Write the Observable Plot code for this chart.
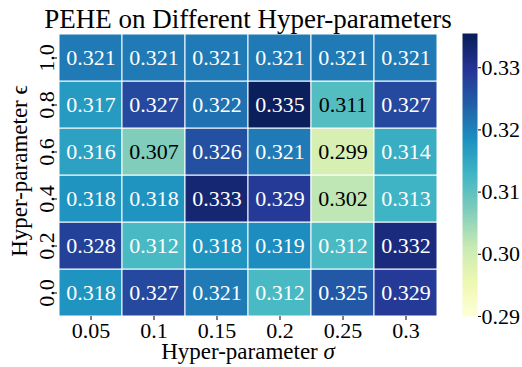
<!DOCTYPE html>
<html>
<head>
<meta charset="utf-8">
<script src="https://cdn.jsdelivr.net/npm/d3@7"></script>
<script src="https://cdn.jsdelivr.net/npm/@observablehq/plot@0.6"></script>
<style>
  html, body { margin: 0; padding: 0; background: white; }
  #chart { position: relative; width: 522px; height: 367px; }
  #chart svg { position: absolute; left: 0; top: 0; }
</style>
</head>
<body>
<div id="chart"></div>
<script>
const title = "PEHE on Different Hyper-parameters";
const sigmaLabels = ["0.05", "0.1", "0.15", "0.2", "0.25", "0.3"];
const epsilonLabels = ["0.0", "0.2", "0.4", "0.6", "0.8", "1.0"];
// rows follow epsilonLabels (0.0 at the bottom ... 1.0 at the top)
const row00 = [0.318, 0.327, 0.321, 0.312, 0.325, 0.329];
const row02 = [0.328, 0.312, 0.318, 0.319, 0.312, 0.332];
const row04 = [0.318, 0.318, 0.333, 0.329, 0.302, 0.313];
const row06 = [0.316, 0.307, 0.326, 0.321, 0.299, 0.314];
const row08 = [0.317, 0.327, 0.322, 0.335, 0.311, 0.327];
const row10 = [0.321, 0.321, 0.321, 0.321, 0.321, 0.321];
const colorbarTicks = [0.29, 0.30, 0.31, 0.32, 0.33];
const colorDomain = [0.29, 0.3355];
const ylgnbu = ["#ffffd9","#edf8b1","#c7e9b4","#7fcdbb","#41b6c4","#1d91c0","#225ea8","#253494","#081d58"];

const rows = [row00, row02, row04, row06, row08, row10];
const cells = [];
rows.forEach((r, i) => r.forEach((v, j) => cells.push({eps: epsilonLabels[i], sigma: sigmaLabels[j], value: v})));

const interp = d3.piecewise(d3.interpolateRgb, ylgnbu);
function lum(c) {
  const rgb = d3.rgb(c);
  const f = x => { x /= 255; return x <= 0.03928 ? x / 12.92 : Math.pow((x + 0.055) / 1.055, 2.4); };
  return 0.2126 * f(rgb.r) + 0.7152 * f(rgb.g) + 0.0722 * f(rgb.b);
}
const tnorm = v => Math.max(0, Math.min(1, (v - colorDomain[0]) / (colorDomain[1] - colorDomain[0])));
const font = "'Liberation Serif', 'Times New Roman', serif";

const M = {marginLeft: 57, marginRight: 84, marginTop: 33, marginBottom: 51};

const main = Plot.plot({
  width: 522, height: 367, ...M,
  style: {fontFamily: font, fontSize: "22px", background: "white", color: "black"},
  x: {type: "band", domain: sigmaLabels, padding: 0, label: null},
  y: {type: "band", domain: epsilonLabels.slice().reverse(), padding: 0, label: null},
  color: {type: "linear", domain: colorDomain, interpolate: interp, clamp: true},
  marks: [
    Plot.cell(cells, {x: "sigma", y: "eps", fill: "value", stroke: "white", strokeWidth: 1}),
    Plot.text(cells, {x: "sigma", y: "eps", text: d => d.value.toFixed(3), fontSize: 22,
      fill: d => lum(interp(tnorm(d.value))) > 0.408 ? "black" : "white"}),
    Plot.axisX({tickSize: 4, tickPadding: 2, fontSize: 22, label: null}),
    Plot.axisY({tickSize: 4, tickFormat: () => "", label: null}),
    Plot.text(epsilonLabels, {y: d => d, text: d => d, frameAnchor: "left", textAnchor: "middle", lineAnchor: "middle", dx: -11, rotate: -90, fontSize: 22}),
    Plot.text(["Hyper-parameter ϵ"], {frameAnchor: "left", textAnchor: "middle", lineAnchor: "middle", dx: -38, dy: -4, rotate: -90, fontSize: 23}),
    Plot.text(["Hyper-parameter σ"], {frameAnchor: "bottom", dy: 35, lineAnchor: "middle", fontSize: 23}),
    Plot.text([title], {frameAnchor: "top", dy: -14.5, lineAnchor: "middle", fontSize: 27})
  ]
});

const bar = Plot.plot({
  width: 522, height: 367,
  marginLeft: 462, marginRight: 45, marginTop: 33, marginBottom: 51,
  style: {fontFamily: font, fontSize: "22px", background: "transparent", color: "black"},
  x: {domain: [0, 1], axis: null},
  y: {domain: colorDomain, label: null},
  color: {type: "linear", domain: colorDomain, interpolate: interp},
  marks: [
    Plot.raster({x1: 0, x2: 1, y1: colorDomain[0], y2: colorDomain[1], width: 1, height: 300, fill: (x, y) => y}),
    Plot.axisY({anchor: "right", ticks: colorbarTicks, tickFormat: d3.format(".2f"), tickSize: 3, tickPadding: 1, fontSize: 22, label: null})
  ]
});

const el = document.getElementById("chart");
el.appendChild(main);
el.appendChild(bar);

// italic sigma in the x-axis title
main.querySelectorAll("text").forEach(t => {
  if (t.textContent === "Hyper-parameter σ") {
    const tn = t.querySelector("tspan") || t;
    tn.textContent = "Hyper-parameter ";
    const s = document.createElementNS("http://www.w3.org/2000/svg", "tspan");
    s.setAttribute("font-style", "italic");
    s.textContent = "σ";
    tn.appendChild(s);
  }
});
</script>
</body>
</html>
